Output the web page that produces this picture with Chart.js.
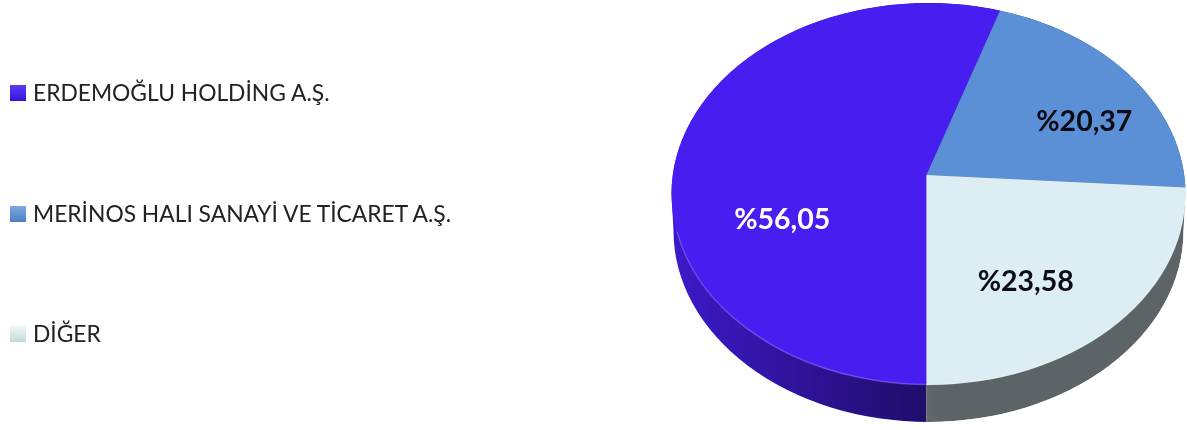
<!DOCTYPE html>
<html lang="tr">
<head>
<meta charset="utf-8">
<title>Ortaklik yapisi</title>
<script src="https://cdn.jsdelivr.net/npm/chart.js@4"></script>
<style>
html, body { margin: 0; padding: 0; background: #fff; overflow: hidden; }
#wrap { position: relative; width: 1187px; height: 430px; filter: blur(0.45px); }
#myChart { position: absolute; left: 0; top: 0; }
.legendRow { position: absolute; left: 10px; height: 24px; line-height: 24px; white-space: nowrap;
    font-family: Lato, "Open Sans", sans-serif; font-size: 22.8px; color: #222; }
.legendBox { position: absolute; left: 0; top: 5px; width: 16px; height: 16px; }
.legendText { position: absolute; left: 23px; top: 0; }
</style>
</head>
<body>
<div id="wrap">
    <canvas id="myChart" width="1187" height="430"></canvas>
    <div id="legend"></div>
</div>
<script>
var categories = ['ERDEMOĞLU HOLDİNG A.Ş.', 'MERİNOS HALI SANAYİ VE TİCARET A.Ş.', 'DİĞER'];
var shares = [56.05, 20.37, 23.58];
var sliceColors = ['#481ef0', '#5b8fd6', '#dceef4'];
var textColors = ['#ffffff', '#0c0c14', '#0c0c14'];

// legend rows, top of each row in px
var legendTops = [80, 201, 321];
var legendBoxes = ['linear-gradient(#5a3cf5, #3a14d8)', 'linear-gradient(#7fa8e0, #4a80c4)', 'linear-gradient(#f2f8fa, #c4d8d8)'];

// the top face of the pie and where the slices meet
var face = { x: 928.5, y: 194, rx: 257, ry: 191 };
var apex = { x: 926.5, y: 175 };
var depth = 38;
// slant of the pie, fitted to the slice edges
var slantK = 0.88;
var slantM = -0.031;
var bigRadius = 300;
// label nudges from the middle of each slice
var labelNudge = [[3, 65], [30, 20], [-2, 13]];

function pctLabel(v) {
    return '%' + v.toFixed(2).replace('.', ',');
}

function slantPie(ctx, arc) {
    var g = bigRadius / arc.outerRadius;
    ctx.transform(g, g * slantM, 0, g * slantK, apex.x, apex.y);
    ctx.translate(-arc.x, -arc.y);
}

function drawArcs(ctx, arcs) {
    arcs.forEach(function(arc) {
        ctx.save();
        slantPie(ctx, arc);
        arc.draw(ctx);
        ctx.restore();
    });
}

var pie3d = {
    id: 'pie3d',
    beforeDatasetsDraw: function(chart) {
        var ctx = chart.ctx;
        var arcs = chart.getDatasetMeta(0).data;

        // side wall
        ctx.save();
        ctx.beginPath();
        ctx.ellipse(face.x, face.y, face.rx, face.ry, 0, Math.PI, 2 * Math.PI);
        ctx.ellipse(face.x, face.y + depth - 1, face.rx - 2, face.ry, 0, 0, Math.PI);
        ctx.closePath();
        ctx.clip();
        drawArcs(ctx, arcs);
        var shade = ctx.createLinearGradient(face.x - face.rx, 0, face.x + 10, 0);
        shade.addColorStop(0, 'rgba(0,0,0,0.16)');
        shade.addColorStop(1, 'rgba(0,0,0,0.58)');
        ctx.globalCompositeOperation = 'source-atop';
        ctx.fillStyle = shade;
        ctx.fillRect(0, 0, chart.width, chart.height);
        ctx.restore();

        // top face
        ctx.save();
        ctx.beginPath();
        ctx.ellipse(face.x, face.y, face.rx, face.ry, 0, 0, 2 * Math.PI);
        ctx.clip();
        drawArcs(ctx, arcs);
        ctx.restore();

        // thin light rim on the front edge
        ctx.save();
        ctx.strokeStyle = 'rgba(255,255,255,0.2)';
        ctx.lineWidth = 1.5;
        ctx.beginPath();
        ctx.ellipse(face.x, face.y, face.rx - 0.5, face.ry - 0.5, 0, 0.2, Math.PI - 0.2);
        ctx.stroke();
        ctx.restore();

        // percent labels
        ctx.save();
        ctx.font = 'bold 28.5px Lato, "Open Sans", sans-serif';
        ctx.textAlign = 'center';
        ctx.textBaseline = 'middle';
        arcs.forEach(function(arc, i) {
            var mid = (arc.startAngle + arc.endAngle) / 2;
            var x = Math.cos(mid) * bigRadius / 2;
            var y = Math.sin(mid) * bigRadius / 2;
            ctx.fillStyle = textColors[i];
            ctx.fillText(pctLabel(shares[i]),
                apex.x + x + labelNudge[i][0],
                apex.y + slantM * x + slantK * y + labelNudge[i][1]);
        });
        ctx.restore();
        return false;
    }
};

var ctx = document.getElementById('myChart').getContext('2d');
var chart = new Chart(ctx, {
    type: 'pie',
    data: {
        labels: categories,
        datasets: [{
            data: shares,
            backgroundColor: sliceColors,
            borderWidth: 0
        }]
    },
    options: {
        responsive: false,
        animation: false,
        rotation: 180,
        events: [],
        plugins: {
            legend: { display: false },
            tooltip: { enabled: false }
        }
    },
    plugins: [pie3d]
});

// legend next to the chart
var legend = document.getElementById('legend');
categories.forEach(function(name, i) {
    var row = document.createElement('div');
    row.className = 'legendRow';
    row.style.top = legendTops[i] + 'px';
    var box = document.createElement('span');
    box.className = 'legendBox';
    box.style.background = legendBoxes[i];
    var text = document.createElement('span');
    text.className = 'legendText';
    text.textContent = name;
    row.appendChild(box);
    row.appendChild(text);
    legend.appendChild(row);
});
</script>
</body>
</html>
